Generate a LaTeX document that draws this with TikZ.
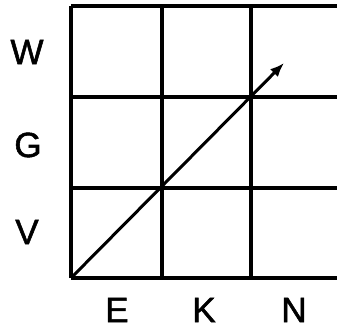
\documentclass[tikz,border=0pt]{standalone}
\usepackage{fontspec}
\setmainfont{Liberation Sans}[FakeBold=1.5]
\usetikzlibrary{arrows.meta}
\tikzset{axislabel/.style={inner sep=0, font=\fontsize{35}{35}\selectfont}}
\begin{document}
\begin{tikzpicture}[x=1pt,y=1pt,line width=3.3pt]
\useasboundingbox (0,0) rectangle (337,327);
% grid
\draw (71,49) -- (337,49);
\draw (71,139) -- (337,139);
\draw (71,230) -- (337,230);
\draw (71,321) -- (337,321);
\draw (71,49) -- (71,321);
\draw (162,49) -- (162,321);
\draw (251,49) -- (251,321);
% labels
\node[axislabel] (w) at (27,275) {W};
\node[axislabel] (g) at (28,182) {G};
\node[axislabel] (v) at (27,95) {V};
\node[axislabel] (e) at (117,17) {E};
\node[axislabel] (k) at (204,17) {K};
\node[axislabel] (n) at (294,17) {N};
% diagonal
\coordinate (start) at (72,50);
\coordinate (tip) at (284,264);
\draw[-{Latex[length=14pt,width=11pt]}, line width=3pt] (start) -- (tip);
\end{tikzpicture}
\end{document}
